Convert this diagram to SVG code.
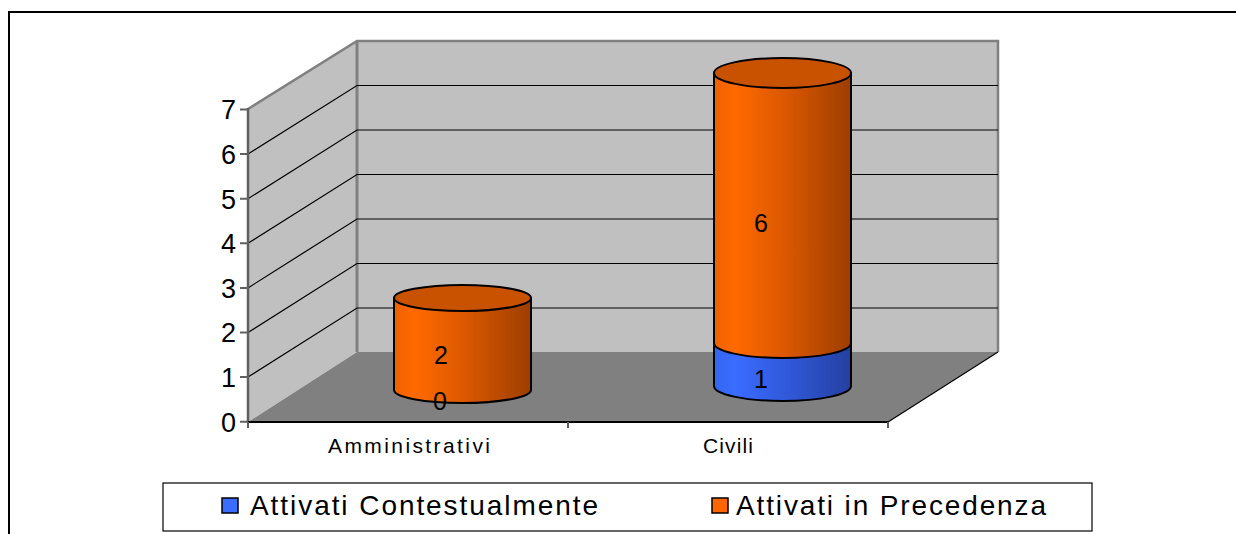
<svg xmlns="http://www.w3.org/2000/svg" width="1236" height="534" viewBox="0 0 1236 534">
<style>
text{font-family:"Liberation Sans",Arial,sans-serif;fill:#000}
.ylab{font-size:27px;text-anchor:end}
.cat{font-size:21px}
.val{font-size:25px;text-anchor:middle}
.leg{font-size:28px}
.grid{stroke:#000;stroke-width:1.2;fill:none}
.tick{stroke:#606060;stroke-width:2}
.cyl{stroke:#000;stroke-width:2;stroke-linejoin:round}
</style>
<defs>
<linearGradient id="gOr" x1="0" y1="0" x2="1" y2="0">
<stop offset="0" stop-color="#f06000"/>
<stop offset="0.15" stop-color="#ff6a00"/>
<stop offset="0.55" stop-color="#d85600"/>
<stop offset="1" stop-color="#9c3e00"/>
</linearGradient>
<linearGradient id="gBl" x1="0" y1="0" x2="1" y2="0">
<stop offset="0" stop-color="#3366f0"/>
<stop offset="0.15" stop-color="#3a6cff"/>
<stop offset="0.55" stop-color="#3058d8"/>
<stop offset="1" stop-color="#2440a0"/>
</linearGradient>
</defs>

<g id="frame">
<path d="M9,534 V12 H1236" fill="none" stroke="#000" stroke-width="2"/>
</g>

<g id="walls">
<polygon points="357,41 998,41 998,352 357,352" fill="#c0c0c0"/>
<polygon points="248,109 357,41 357,352 248,422" fill="#c0c0c0"/>
<polygon points="248,422 357,352 998,352 888,422" fill="#808080"/>
<path d="M248,109 L357,41 H998 V352" fill="none" stroke="#808080" stroke-width="2.5"/>
<line x1="357" y1="41" x2="357" y2="352" stroke="#808080" stroke-width="3"/>
<line x1="998" y1="352" x2="888" y2="422" stroke="#000" stroke-width="1.2"/>
</g>

<g id="gridlines">
<path class="grid" d="M248,377.1 L357,308 H998 M248,332.5 L357,263.5 H998 M248,287.9 L357,219 H998 M248,243.3 L357,174.5 H998 M248,198.7 L357,130 H998 M248,154.1 L357,85.5 H998"/>
</g>

<g id="axes">
<line x1="248" y1="108" x2="248" y2="423" stroke="#606060" stroke-width="2.5"/>
<line x1="247" y1="422" x2="889" y2="422" stroke="#000" stroke-width="2"/>
<path class="tick" d="M240,421.7 H248 M240,377.1 H248 M240,332.5 H248 M240,287.9 H248 M240,243.3 H248 M240,198.7 H248 M240,154.1 H248 M240,109.5 H248"/>
<path class="tick" d="M248,422 V428 M568,422 V428 M888,422 V428"/>
<text class="ylab" x="236" y="431.5">0</text>
<text class="ylab" x="236" y="386.9">1</text>
<text class="ylab" x="236" y="342.3">2</text>
<text class="ylab" x="236" y="297.7">3</text>
<text class="ylab" x="236" y="253.1">4</text>
<text class="ylab" x="236" y="208.5">5</text>
<text class="ylab" x="236" y="163.9">6</text>
<text class="ylab" x="236" y="119.3">7</text>
<text class="cat" x="328" y="453" textLength="162" lengthAdjust="spacing">Amministrativi</text>
<text class="cat" x="703" y="453" textLength="50" lengthAdjust="spacing">Civili</text>
</g>

<g id="bar-amministrativi">
<path class="cyl" fill="url(#gOr)" d="M394,298 V390 A68.5,13 0 0 0 531,390 V298 Z"/>
<ellipse class="cyl" cx="462.5" cy="298" rx="68.5" ry="13" fill="#c85200"/>
<text class="val" x="441" y="364">2</text>
<text class="val" x="440" y="410">0</text>
</g>

<g id="bar-civili">
<path class="cyl" fill="url(#gBl)" d="M714,343 V386 A68.5,15 0 0 0 851,386 V343 Z"/>
<path class="cyl" fill="url(#gOr)" d="M714,73 V343 A68.5,15 0 0 0 851,343 V73 Z"/>
<ellipse class="cyl" cx="782.5" cy="73" rx="68.5" ry="15" fill="#c85200"/>
<text class="val" x="761" y="232">6</text>
<text class="val" x="761" y="388">1</text>
</g>

<g id="legend">
<rect x="163" y="483" width="929" height="48" fill="#fff" stroke="#000" stroke-width="1.2"/>
<rect x="222" y="498" width="16" height="15" fill="#3a6cff" stroke="#000" stroke-width="1.5"/>
<text class="leg" x="250" y="515" textLength="348" lengthAdjust="spacing">Attivati Contestualmente</text>
<rect x="712" y="498" width="16" height="15" fill="#ff6600" stroke="#000" stroke-width="1.5"/>
<text class="leg" x="736" y="515" textLength="310" lengthAdjust="spacing">Attivati in Precedenza</text>
</g>
</svg>
